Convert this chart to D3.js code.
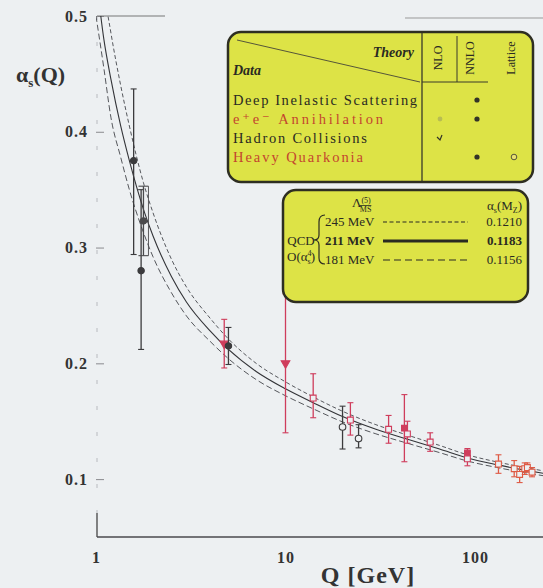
<!DOCTYPE html>
<html><head><meta charset="utf-8">
<script src="https://cdn.jsdelivr.net/npm/d3@7"></script>
<style>
html,body{margin:0;padding:0;background:#edf0f2;}
svg{display:block;}
text{font-family:"Liberation Serif","DejaVu Serif",serif;}
</style></head><body>
<svg id="chart" width="543" height="588"></svg>
<script>
// QCD running coupling curves (4-loop), three values of alpha_s(MZ)
const curveQ       = [1.0, 1.1, 1.2, 1.35, 1.5, 1.78, 2.0, 2.5, 3.0, 4.0, 5.0, 7.0, 10, 14, 20, 30, 45, 65, 91.2, 130, 180, 230];
const alphaCentral = [0.535, 0.480, 0.445, 0.405, 0.375, 0.333, 0.310, 0.275, 0.253, 0.228, 0.212, 0.193, 0.178, 0.166, 0.154, 0.143, 0.134, 0.126, 0.1183, 0.1125, 0.1080, 0.1050];
const alphaHigh    = [0.600, 0.525, 0.485, 0.440, 0.405, 0.356, 0.330, 0.290, 0.266, 0.239, 0.221, 0.200, 0.184, 0.171, 0.1586, 0.147, 0.1375, 0.1291, 0.1210, 0.1149, 0.1103, 0.1071];
const alphaLow     = [0.500, 0.455, 0.412, 0.378, 0.350, 0.313, 0.292, 0.261, 0.241, 0.219, 0.204, 0.186, 0.172, 0.1607, 0.1494, 0.1391, 0.1305, 0.1229, 0.1156, 0.1101, 0.1058, 0.1029];

// measurements of alpha_s(Q)
const measQ       = [1.58, 1.73, 1.78, 4.75, 5.0, 10.0, 14, 20, 22, 24.3, 35, 42.4, 44, 58, 91.2, 91.2, 133, 161, 172, 183, 189, 200];
const measAlpha   = [0.375, 0.280, 0.323, 0.217, 0.215, 0.200, 0.170, 0.145, 0.151, 0.135, 0.143, 0.144, 0.139, 0.132, 0.1226, 0.1175, 0.113, 0.109, 0.104, 0.109, 0.110, 0.106];
const measErrUp   = [0.062, 0.070, 0.030, 0.021, 0.016, 0.060, 0.021, 0.018, 0.015, 0.012, 0.012, 0.029, 0.011, 0.008, 0.0038, 0.006, 0.008, 0.007, 0.007, 0.005, 0.004, 0.004];
const measErrDown = [0.081, 0.068, 0.030, 0.021, 0.016, 0.060, 0.017, 0.019, 0.013, 0.008, 0.012, 0.029, 0.008, 0.008, 0.0038, 0.006, 0.008, 0.007, 0.007, 0.005, 0.004, 0.004];
const measGroup   = ["dis", "dis", "tau", "quarkonia", "dis", "ee", "ee", "hadron", "ee", "hadron", "ee", "ee", "ee", "ee", "ee", "ee", "lep2", "lep2", "lep2", "lep2", "lep2", "lep2"];
const measOrder   = ["NNLO", "NNLO", "NNLO", "NNLO", "NNLO", "NNLO", "NLO", "NLO", "NLO", "NLO", "NLO", "NNLO", "NLO", "NLO", "NNLO", "NLO", "NLO", "NLO", "NLO", "NLO", "NLO", "NLO"];
const measShape   = ["circle", "circle", "circle", "triangle", "circle", "triangle", "square", "circle", "square", "circle", "square", "square", "square", "square", "square", "square", "square", "square", "square", "square", "square", "square"];

// axis ticks
const yTicks = [0.1, 0.2, 0.3, 0.4, 0.5];
const xTicks = [1, 10, 100];

// legend content
const tableRows = ["Deep Inelastic Scattering", "e\u207Ae\u207B Annihilation", "Hadron Collisions", "Heavy Quarkonia"];
const tableCols = ["NLO", "NNLO", "Lattice"];
const tableMarks = [[0, 1, 0], [2, 1, 0], [3, 0, 0], [0, 1, 4]];
const lambdaLabels = ["245 MeV", "211 MeV", "181 MeV"];
const alphaMzLabels = ["0.1210", "0.1183", "0.1156"];

const groupColor = {dis: "#3b3b3d", tau: "#4a4a4c", hadron: "#3b3b3d", ee: "#cf3d5c", quarkonia: "#cf3d5c", lep2: "#de5a45"};

const svg = d3.select("#chart");
const W = 543, H = 588;
const x = d3.scaleLog().domain([1, 100]).range([96, 475]);
const y = d3.scaleLinear().domain([0.05, 0.5]).range([537, 16]);

svg.append("rect").attr("width", W).attr("height", H).attr("fill", "#edf0f2");

svg.append("defs").append("clipPath").attr("id", "plotClip")
  .append("rect").attr("x", 96).attr("y", 16).attr("width", W - 96).attr("height", 521);

// ---- axes ----
const yAxis = svg.append("g").attr("transform", "translate(104,0)")
  .call(d3.axisLeft(y).tickValues(yTicks).tickFormat(d3.format(".1f")).tickSize(8).tickPadding(8));
yAxis.select(".domain").remove();
yAxis.selectAll(".tick line").attr("stroke", "#8a8a8e").attr("stroke-width", 1);
yAxis.selectAll(".tick text").attr("fill", "#333").style("font-size", "16px").style("font-weight", "bold")
  .style("font-family", "'Liberation Serif',serif").attr("letter-spacing", "1");
// faint vertical axis
svg.append("line").attr("x1", 97).attr("x2", 97).attr("y1", 16).attr("y2", 513)
  .attr("stroke", "#b8babf").attr("stroke-width", 1).attr("stroke-dasharray", "4,22");
svg.append("line").attr("x1", 97).attr("x2", 97).attr("y1", 513).attr("y2", 537)
  .attr("stroke", "#444").attr("stroke-width", 1.3);
// top lines
svg.append("line").attr("x1", 97).attr("x2", 165).attr("y1", y(0.5)).attr("y2", y(0.5))
  .attr("stroke", "#777").attr("stroke-width", 1.2);
svg.append("line").attr("x1", 405).attr("x2", W).attr("y1", 18).attr("y2", 18)
  .attr("stroke", "#999").attr("stroke-width", 1);

const xAxis = svg.append("g").attr("transform", "translate(0,537)")
  .call(d3.axisBottom(x).tickValues(xTicks).tickFormat(d3.format("d")).tickSize(0).tickPadding(15));
xAxis.select(".domain").remove();
xAxis.selectAll(".tick text").attr("fill", "#333").style("font-size", "16px").style("font-weight", "bold")
  .style("font-family", "'Liberation Serif',serif").attr("letter-spacing", "1");
svg.append("line").attr("x1", 97).attr("x2", W).attr("y1", 537).attr("y2", 537)
  .attr("stroke", "#4a4a4e").attr("stroke-width", 1.5);

// axis titles
const yt = svg.append("text").attr("x", 16).attr("y", 82).attr("fill", "#333")
  .style("font-size", "22px").style("font-weight", "bold");
yt.append("tspan").text("\u03B1");
yt.append("tspan").attr("dy", 5).style("font-size", "13px").text("s");
yt.append("tspan").attr("dy", -5).text("(Q)");

svg.append("text").attr("x", 368).attr("y", 583).attr("text-anchor", "middle").attr("fill", "#333")
  .style("font-size", "24px").style("font-weight", "bold").attr("letter-spacing", "1").text("Q [GeV]");

// ---- curves ----
const plot = svg.append("g").attr("clip-path", "url(#plotClip)");
const line = d3.line().x((d, i) => x(curveQ[i])).y(d => y(d)).curve(d3.curveMonotoneX);
plot.append("path").attr("d", line(alphaHigh)).attr("fill", "none")
  .attr("stroke", "#55575c").attr("stroke-width", 1).attr("stroke-dasharray", "4,2.5");
plot.append("path").attr("d", line(alphaLow)).attr("fill", "none")
  .attr("stroke", "#55575c").attr("stroke-width", 1).attr("stroke-dasharray", "6,3");
plot.append("path").attr("d", line(alphaCentral)).attr("fill", "none")
  .attr("stroke", "#333438").attr("stroke-width", 1.1);

// ---- measurements ----
measQ.forEach((q, i) => {
  const col = groupColor[measGroup[i]];
  const cx = x(q), cy = y(measAlpha[i]);
  const top = y(measAlpha[i] + measErrUp[i]), bot = y(measAlpha[i] - measErrDown[i]);
  const cap = measGroup[i] === "tau" ? 5 : 3;
  const g = plot.append("g");
  g.append("line").attr("x1", cx).attr("x2", cx).attr("y1", top).attr("y2", bot)
    .attr("stroke", col).attr("stroke-width", 1.3);
  [top, bot].forEach(yy => g.append("line").attr("x1", cx - cap).attr("x2", cx + cap)
    .attr("y1", yy).attr("y2", yy).attr("stroke", col).attr("stroke-width", 1.1));
  if (measGroup[i] === "tau") {
    g.append("line").attr("x1", cx + cap).attr("x2", cx + cap).attr("y1", top).attr("y2", bot)
      .attr("stroke", col).attr("stroke-width", 0.9);
  }
  const sym = measShape[i] === "circle" ? d3.symbolCircle : measShape[i] === "square" ? d3.symbolSquare : d3.symbolTriangle;
  const filled = measOrder[i] === "NNLO";
  g.append("path").attr("d", d3.symbol().type(sym).size(filled ? 32 : 34)())
    .attr("transform", `translate(${cx},${cy})` + (measShape[i] === "triangle" ? " rotate(180)" : ""))
    .attr("fill", filled ? col : "#edf0f2").attr("stroke", col).attr("stroke-width", 1.1);
});

// ---- legend table ----
const tb = svg.append("g");
tb.append("rect").attr("x", 228).attr("y", 32).attr("width", 305).attr("height", 150).attr("rx", 13)
  .attr("fill", "#dde346").attr("stroke", "#2e2e22").attr("stroke-width", 2.5);
tb.append("line").attr("x1", 422).attr("x2", 422).attr("y1", 33).attr("y2", 181).attr("stroke", "#3a3a2a").attr("stroke-width", 1.3);
tb.append("line").attr("x1", 457).attr("x2", 457).attr("y1", 36).attr("y2", 82).attr("stroke", "#3a3a2a").attr("stroke-width", 1);
tb.append("line").attr("x1", 422).attr("x2", 488).attr("y1", 82).attr("y2", 82).attr("stroke", "#3a3a2a").attr("stroke-width", 1);
tb.append("line").attr("x1", 237).attr("x2", 420).attr("y1", 40).attr("y2", 82).attr("stroke", "#55553a").attr("stroke-width", 1);
tb.append("text").attr("x", 414).attr("y", 57).attr("text-anchor", "end").attr("fill", "#2a2a22")
  .style("font-size", "14px").style("font-style", "italic").style("font-weight", "bold").text("Theory");
tb.append("text").attr("x", 233).attr("y", 75).attr("fill", "#2a2a22")
  .style("font-size", "14px").style("font-style", "italic").style("font-weight", "bold").text("Data");
const colX = [438, 470, 511];
tableCols.forEach((c, j) => {
  tb.append("text").attr("transform", `translate(${colX[j] + 4},${58}) rotate(-90)`).attr("text-anchor", "middle")
    .attr("fill", "#2a2a22").style("font-size", "12px").text(c);
});
const rowY = [100, 119, 138, 157];
const rowCol = ["#2a2a22", "#c4452e", "#2a2a22", "#c4452e"];
tableRows.forEach((r, i) => {
  tb.append("text").attr("x", 233).attr("y", rowY[i] + 5).attr("fill", rowCol[i])
    .style("font-size", "14.5px").attr("textLength", [184, 150, 134, 130][i]).text(r);
  tableMarks[i].forEach((m, j) => {
    if (!m) return;
    const cx = [440, 477, 514][j];
    if (m === 1) tb.append("circle").attr("cx", cx).attr("cy", rowY[i]).attr("r", 2.6).attr("fill", "#333328");
    if (m === 2) tb.append("circle").attr("cx", cx).attr("cy", rowY[i]).attr("r", 2.4).attr("fill", "#b8bd52");
    if (m === 3) tb.append("path").attr("d", `M${cx - 3},${rowY[i] - 1}L${cx},${rowY[i] + 2}L${cx + 2},${rowY[i] - 3}`)
      .attr("fill", "none").attr("stroke", "#333328").attr("stroke-width", 1.2);
    if (m === 4) tb.append("circle").attr("cx", cx).attr("cy", rowY[i]).attr("r", 2.8).attr("fill", "#e8e070").attr("stroke", "#55553a").attr("stroke-width", 1);
  });
});

// ---- legend: QCD curves ----
const lg = svg.append("g");
lg.append("rect").attr("x", 283).attr("y", 190).attr("width", 245).attr("height", 112).attr("rx", 13)
  .attr("fill", "#dde346").attr("stroke", "#2e2e22").attr("stroke-width", 2.5);
const lam = lg.append("text").attr("x", 352).attr("y", 207).attr("fill", "#2a2a22").style("font-size", "13px");
lam.append("tspan").text("\u039B");
lam.append("tspan").attr("dy", -4).style("font-size", "8px").text("(5)");
lam.append("tspan").attr("dx", -11).attr("dy", 9).style("font-size", "8px").style("text-decoration", "overline").text("MS");
const amz = lg.append("text").attr("x", 522).attr("y", 210).attr("text-anchor", "end").attr("fill", "#2a2a22").style("font-size", "13px");
amz.append("tspan").text("\u03B1");
amz.append("tspan").attr("dy", 3).style("font-size", "8px").text("s");
amz.append("tspan").attr("dy", -3).text("(M");
amz.append("tspan").attr("dy", 3).style("font-size", "8px").text("Z");
amz.append("tspan").attr("dy", -3).text(")");
lg.append("text").attr("x", 301).attr("y", 245).attr("text-anchor", "middle").attr("fill", "#2a2a22")
  .style("font-size", "13px").text("QCD");
const ord = lg.append("text").attr("x", 301).attr("y", 261).attr("text-anchor", "middle").attr("fill", "#2a2a22").style("font-size", "13px");
ord.append("tspan").text("O(\u03B1");
ord.append("tspan").attr("dy", -5).style("font-size", "8px").text("4");
ord.append("tspan").attr("dx", -4).attr("dy", 8).style("font-size", "8px").text("s");
ord.append("tspan").attr("dy", -3).text(")");
lg.append("path").attr("d", "M325,215 Q319,215 319,222 L319,235 Q319,240 314,240 Q319,240 319,245 L319,258 Q319,264 325,264")
  .attr("fill", "none").attr("stroke", "#2a2a22").attr("stroke-width", 1.2);
const lrowY = [222, 241, 260];
const dash = ["4,2.5", null, "7,4"];
lambdaLabels.forEach((t, i) => {
  const bold = i === 1;
  lg.append("text").attr("x", 325).attr("y", lrowY[i] + 4).attr("fill", "#2a2a22")
    .style("font-size", "13px").style("font-weight", bold ? "bold" : "normal").text(t);
  lg.append("line").attr("x1", 383).attr("x2", 468).attr("y1", lrowY[i]).attr("y2", lrowY[i])
    .attr("stroke", "#2a2a22").attr("stroke-width", bold ? 2.8 : 1.1).attr("stroke-dasharray", dash[i]);
  lg.append("text").attr("x", 522).attr("y", lrowY[i] + 4).attr("text-anchor", "end").attr("fill", "#2a2a22")
    .style("font-size", "13px").style("font-weight", bold ? "bold" : "normal").text(alphaMzLabels[i]);
});
</script></body></html>
